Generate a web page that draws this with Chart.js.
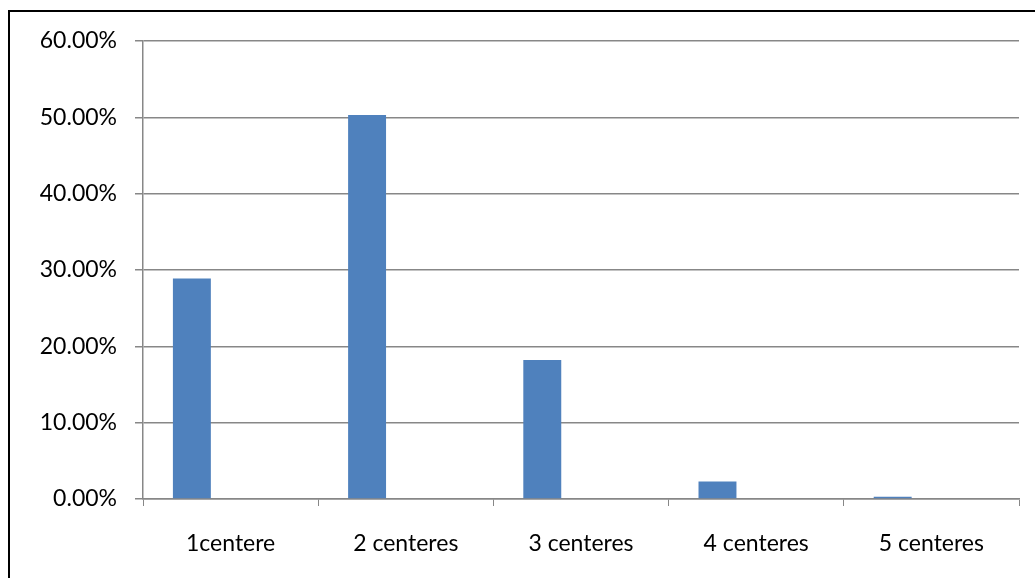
<!DOCTYPE html>
<html>
<head>
<meta charset="utf-8">
<script src="https://cdn.jsdelivr.net/npm/chart.js@4"></script>
<style>
  html, body { margin: 0; padding: 0; background: #fff; overflow: hidden; }
  canvas { display: block; }
</style>
</head>
<body>
<canvas id="barChart" width="1035" height="578"></canvas>
<script>
// chart values (percent)
const categories = ['1centere', '2 centeres', '3 centeres', '4 centeres', '5 centeres'];
const series1Values = [28.9, 50.3, 18.2, 2.3, 0.3];
const series2Values = [0, 0, 0, 0, 0];
const yTicks = [0, 10, 20, 30, 40, 50, 60];

const gridGray = '#878787';
const font = { family: 'Lato, "Open Sans", sans-serif', size: 23 };

// black frame round the chart (open to the right and bottom like the original)
const framePlugin = {
    id: 'frame',
    beforeDraw(chart) {
        const c = chart.ctx;
        c.save();
        c.strokeStyle = '#000';
        c.lineWidth = 2;
        c.beginPath();
        c.moveTo(9, 578);
        c.lineTo(9, 11);
        c.lineTo(1035, 11);
        c.stroke();
        c.restore();
    }
};

const ctx = document.getElementById('barChart').getContext('2d');
new Chart(ctx, {
    type: 'bar',
    data: {
        labels: categories,
        datasets: [
            { data: series1Values, backgroundColor: '#4F81BD', barPercentage: 0.49, categoryPercentage: 0.884 },
            { data: series2Values, backgroundColor: '#C0504D', barPercentage: 0.49, categoryPercentage: 0.884 }
        ]
    },
    plugins: [framePlugin],
    options: {
        responsive: false,
        animation: false,
        layout: { padding: { left: 0, top: 41, right: 16, bottom: 0 } },
        plugins: { legend: { display: false }, tooltip: { enabled: false } },
        scales: {
            x: {
                grid: { offset: true, drawOnChartArea: false, drawTicks: true, tickLength: 7, color: gridGray, lineWidth: 1 },
                border: { color: gridGray, width: 1.5 },
                ticks: { color: '#000', font: font, padding: 24, maxRotation: 0 },
                afterFit: function (scale) { scale.height = 79; }
            },
            y: {
                min: 0,
                max: 60,
                afterBuildTicks: function (scale) { scale.ticks = yTicks.map(v => ({ value: v })); },
                grid: { color: gridGray, lineWidth: 1.5, tickLength: 8 },
                border: { color: gridGray, width: 1.5 },
                ticks: { color: '#000', font: font, padding: 18, callback: v => v.toFixed(2) + '%' },
                afterFit: function (scale) { scale.width = 143; }
            }
        }
    }
});
</script>
</body>
</html>
